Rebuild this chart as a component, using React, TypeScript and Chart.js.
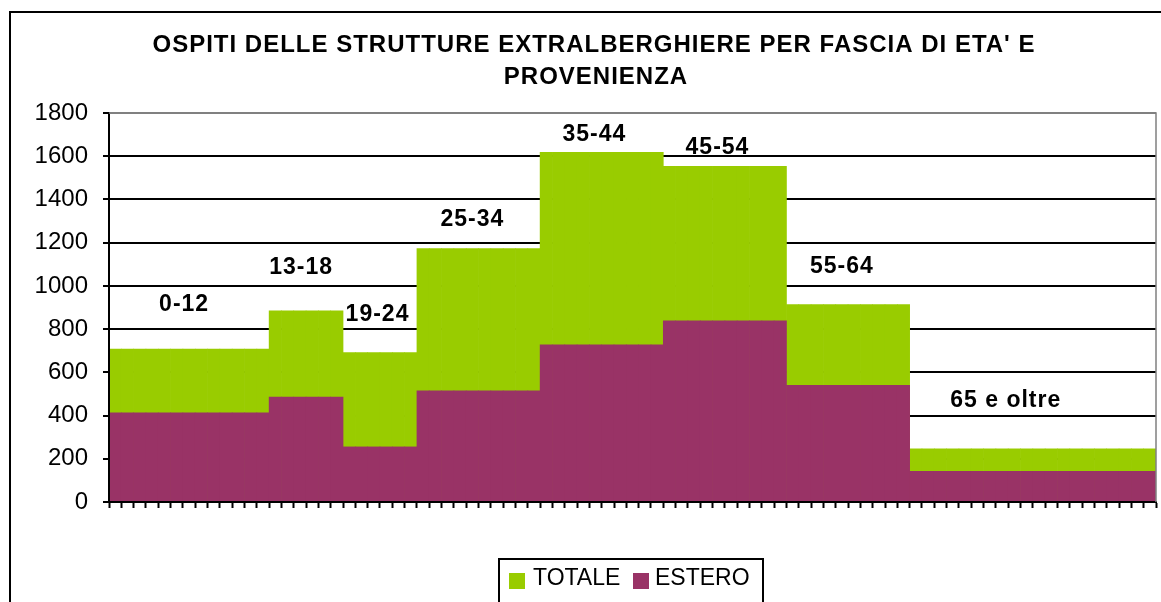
import React, { useEffect, useRef } from 'react';
import { Chart, registerables } from 'chart.js';

Chart.register(...registerables);

// ---- data ----
const titleLines = ["OSPITI DELLE STRUTTURE EXTRALBERGHIERE PER FASCIA DI ETA' E", 'PROVENIENZA'];
const seriesNames = ['TOTALE', 'ESTERO'];
const groupLabels = ['0-12', '13-18', '19-24', '25-34', '35-44', '45-54', '55-64', '65 e oltre'];
const groupFirstAge = [0, 13, 19, 25, 35, 45, 55, 65];
const groupLastAge = [12, 18, 24, 34, 44, 54, 64, 84];
const totaleValues = [708, 885, 691, 1173, 1618, 1553, 913, 246];
const esteroValues = [413, 486, 255, 514, 727, 838, 540, 142];
const yTickValues = [0, 200, 400, 600, 800, 1000, 1200, 1400, 1600, 1800];
// anchor of each group caption, in data units (age, value)
const captionAge = [6.1, 15.6, 21.8, 29.5, 39.4, 49.4, 59.5, 72.8];
const captionValue = [913, 1084, 866, 1307, 1698, 1641, 1087, 470];

const GREEN = '#99CC00';
const MAROON = '#993366';
const FONT = "'Liberation Sans', Arial, sans-serif";

// one category per year of age
const ages: string[] = [];
const totaleByAge: number[] = [];
const esteroByAge: number[] = [];
groupFirstAge.forEach((first, g) => {
  for (let a = first; a <= groupLastAge[g]; a++) {
    ages.push(String(a));
    totaleByAge.push(totaleValues[g]);
    esteroByAge.push(esteroValues[g]);
  }
});

const extrasPlugin = {
  id: 'extras',
  beforeDraw(chart: any) {
    const ctx = chart.ctx;
    ctx.save();
    ctx.fillStyle = '#ffffff';
    ctx.fillRect(0, 0, chart.width, chart.height);
    ctx.restore();
  },
  afterDraw(chart: any) {
    const ctx = chart.ctx as CanvasRenderingContext2D;
    const { left, right, top, bottom } = chart.chartArea;
    const xs = chart.scales.x;
    const ys = chart.scales.y;
    ctx.save();

    // plot area border (top / right)
    ctx.strokeStyle = '#808080';
    ctx.lineWidth = 1.5;
    ctx.beginPath();
    ctx.moveTo(left, top);
    ctx.lineTo(right, top);
    ctx.lineTo(right, bottom);
    ctx.stroke();

    // group captions
    ctx.fillStyle = '#000';
    ctx.textAlign = 'center';
    ctx.textBaseline = 'middle';
    ctx.font = `bold 23px ${FONT}`;
    (ctx as any).letterSpacing = '1px';
    groupLabels.forEach((lab, i) => {
      const px = xs.getPixelForValue(captionAge[i] - 0.5);
      const py = ys.getPixelForValue(captionValue[i]);
      ctx.fillText(lab, px, py);
    });

    // title
    ctx.font = `bold 24px ${FONT}`;
    (ctx as any).letterSpacing = '1px';
    ctx.fillText(titleLines[0], 594, 45);
    ctx.fillText(titleLines[1], 596, 77);
    (ctx as any).letterSpacing = '0px';

    // legend
    const ds = chart.data.datasets;
    ctx.strokeStyle = '#000';
    ctx.lineWidth = 2;
    ctx.strokeRect(499, 559, 264, 60);
    const itemX = [509, 633];
    const textX = [533, 655];
    ctx.font = `23px ${FONT}`;
    ctx.textAlign = 'left';
    seriesNames.forEach((name, i) => {
      const d = ds.find((s: any) => s.label === name);
      ctx.fillStyle = d.backgroundColor;
      ctx.fillRect(itemX[i], 573, 16, 16);
      ctx.fillStyle = '#000';
      ctx.fillText(name, textX[i], 579);
    });

    // outer chart border
    ctx.lineWidth = 2;
    ctx.strokeStyle = '#000';
    ctx.strokeRect(10, 12, 1200, 700);
    ctx.restore();
  },
};

export default function App() {
  const ref = useRef<HTMLCanvasElement | null>(null);
  useEffect(() => {
    document.body.style.margin = '0';
    document.body.style.overflow = 'hidden';
    if (!ref.current) return;
    const chart = new Chart(ref.current, {
      type: 'bar',
      data: {
        labels: ages,
        datasets: [
          {
            label: seriesNames[0],
            data: totaleByAge,
            backgroundColor: GREEN,
            borderWidth: 0,
            order: 1,
          },
          {
            label: seriesNames[1],
            data: esteroByAge,
            backgroundColor: MAROON,
            borderWidth: 0,
            order: 0,
          },
        ],
      },
      options: {
        responsive: false,
        animation: false,
        devicePixelRatio: 1,
        layout: { padding: { top: 113, right: 5, bottom: 94, left: 0 } },
        datasets: {
          bar: { grouped: false, categoryPercentage: 1, barPercentage: 1 },
        },
        plugins: {
          legend: { display: false },
          title: { display: false },
          tooltip: { enabled: false },
        },
        scales: {
          x: {
            type: 'category',
            offset: true,
            ticks: { display: false, autoSkip: false },
            grid: {
              offset: true,
              drawOnChartArea: false,
              drawTicks: true,
              tickLength: 6,
              tickWidth: 2,
              tickColor: '#000',
              color: '#000',
            },
            border: { display: true, color: '#000', width: 2, z: 1 },
            afterFit: (s: any) => {
              s.height = 6;
            },
          },
          y: {
            min: 0,
            max: 1800,
            afterBuildTicks: (s: any) => {
              s.ticks = yTickValues.map((v) => ({ value: v }));
            },
            ticks: {
              color: '#000',
              padding: 15,
              font: { family: FONT, size: 24 },
              callback: (v: any) => String(v),
            },
            grid: {
              color: (c: any) => (c.tick && c.tick.value === 1800 ? '#808080' : '#000'),
              lineWidth: 2,
              tickLength: 6,
              tickWidth: 2,
              tickColor: '#000',
            },
            border: { display: true, color: '#000', width: 2, z: 1 },
            afterFit: (s: any) => {
              s.width = 109;
            },
          },
        },
      },
      plugins: [extrasPlugin],
    } as any);
    return () => chart.destroy();
  }, []);
  return (
    <div style={{ position: 'fixed', left: 0, top: 0, width: 1161, height: 602 }}>
      <canvas ref={ref} width={1161} height={602} style={{ display: 'block' }} />
    </div>
  );
}
